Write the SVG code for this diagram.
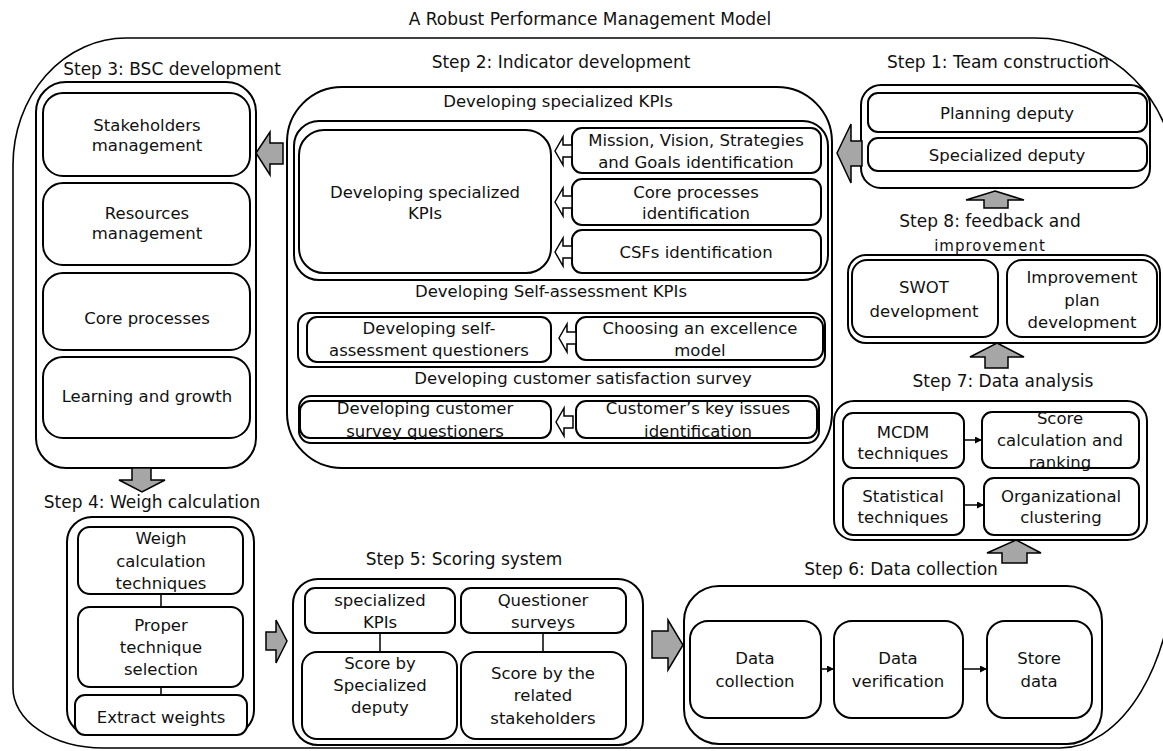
<svg xmlns="http://www.w3.org/2000/svg" width="1163" height="751" viewBox="0 0 1163 751">
<style>
.frame{fill:none;stroke:#000;stroke-width:1.6}
.grp{fill:#fff;stroke:#000;stroke-width:2}
.box{fill:#fff;stroke:#000;stroke-width:2}
.t{font-family:"DejaVu Sans",sans-serif;font-size:16.5px;text-anchor:middle;fill:#111}
.s{font-family:"DejaVu Sans",sans-serif;font-size:17px;text-anchor:middle;fill:#111}
.ga{fill:#a6a6a6;stroke:#000;stroke-width:1.5;stroke-linejoin:miter}
.wa{fill:#fff;stroke:#000;stroke-width:1.5}
.ln{stroke:#000;stroke-width:1.5;fill:none}
</style>
<defs>
<marker id="ah" viewBox="0 0 10 10" refX="10" refY="5" markerWidth="7" markerHeight="7" markerUnits="userSpaceOnUse" orient="auto">
<path d="M0,0 L10,5 L0,10 Z" fill="#000"/>
</marker>
<path id="sa" d="M0,0 L8,-14 L8,-6 L17,-6 L17,6 L8,6 L8,14 Z"/>
</defs>
<rect width="1163" height="751" fill="#fff"/>

<text class="s" x="590" y="25">A Robust Performance Management Model</text>
<path class="frame" d="M126,38 H1035 A140,140 0 0 1 1175,178 V554 A115,194 0 0 1 1060,748 H103 A90,60 0 0 1 13,688 V165 A113,127 0 0 1 126,38 Z"/>

<g id="step3">
<text class="s" x="172" y="75">Step 3: BSC development</text>
<rect class="grp" x="36" y="82" width="220" height="386" rx="30"/>
<rect class="box" x="43" y="93" width="207" height="83" rx="20"/>
<text class="t" x="147" y="131">Stakeholders</text>
<text class="t" x="147" y="151">management</text>
<rect class="box" x="43" y="183" width="207" height="82" rx="20"/>
<text class="t" x="147" y="219">Resources</text>
<text class="t" x="147" y="239">management</text>
<rect class="box" x="43" y="273" width="207" height="77" rx="20"/>
<text class="t" x="147" y="324">Core processes</text>
<rect class="box" x="43" y="357" width="207" height="81" rx="20"/>
<text class="t" x="147" y="402">Learning and growth</text>
</g>

<g id="step2">
<text class="s" x="561" y="68">Step 2: Indicator development</text>
<rect class="grp" x="287" y="87" width="545" height="381" rx="55"/>
<text class="t" x="558" y="107">Developing specialized KPIs</text>
<rect class="grp" x="294" y="121" width="534" height="159" rx="25"/>
<rect class="box" x="299" y="130" width="252" height="143" rx="25"/>
<text class="t" x="425" y="198">Developing specialized</text>
<text class="t" x="425" y="219">KPIs</text>
<rect class="box" x="572" y="128" width="249" height="45" rx="10"/>
<text class="t" x="696" y="146">Mission, Vision, Strategies</text>
<text class="t" x="696" y="168">and Goals identification</text>
<rect class="box" x="572" y="179" width="249" height="46" rx="10"/>
<text class="t" x="696" y="198">Core processes</text>
<text class="t" x="696" y="219">identification</text>
<rect class="box" x="572" y="230" width="249" height="43" rx="10"/>
<text class="t" x="696" y="258">CSFs identification</text>

<text class="t" x="551" y="297">Developing Self-assessment KPIs</text>
<rect class="grp" x="298" y="313" width="527" height="54" rx="12"/>
<rect class="box" x="307" y="317" width="244" height="45" rx="10"/>
<text class="t" x="429" y="334">Developing self-</text>
<text class="t" x="429" y="356">assessment questioners</text>
<rect class="box" x="576" y="317" width="247" height="43" rx="10"/>
<text class="t" x="700" y="334">Choosing an excellence</text>
<text class="t" x="700" y="356">model</text>

<text class="t" x="583" y="384">Developing customer satisfaction survey</text>
<rect class="grp" x="299" y="396" width="520" height="47" rx="12"/>
<rect class="box" x="300" y="401" width="251" height="37" rx="10"/>
<text class="t" x="425" y="414">Developing customer</text>
<text class="t" x="425" y="437">survey questioners</text>
<rect class="box" x="576" y="401" width="241" height="37" rx="10"/>
<text class="t" x="698" y="414">Customer’s key issues</text>
<text class="t" x="698" y="437">identification</text>
</g>

<g id="step1">
<text class="s" x="998" y="68">Step 1: Team construction</text>
<rect class="grp" x="861" y="85" width="289" height="103" rx="20"/>
<rect class="box" x="868" y="93" width="279" height="39" rx="10"/>
<text class="t" x="1007" y="119">Planning deputy</text>
<rect class="box" x="868" y="138" width="279" height="33" rx="10"/>
<text class="t" x="1007" y="161">Specialized deputy</text>
</g>

<g id="step8">
<text class="s" x="990" y="227">Step 8: feedback and</text>
<text class="s" x="990" y="251" style="font-size:15px;letter-spacing:1px">improvement</text>
<rect class="grp" x="848" y="255" width="312" height="88" rx="18"/>
<rect class="box" x="852" y="260" width="146" height="77" rx="15"/>
<text class="t" x="924" y="293">SWOT</text>
<text class="t" x="924" y="317">development</text>
<rect class="box" x="1007" y="260" width="150" height="77" rx="15"/>
<text class="t" x="1082" y="283">Improvement</text>
<text class="t" x="1082" y="306">plan</text>
<text class="t" x="1082" y="328">development</text>
</g>

<g id="step7">
<text class="s" x="1003" y="387">Step 7: Data analysis</text>
<rect class="grp" x="834" y="401" width="313" height="139" rx="20"/>
<rect class="box" x="843" y="413" width="121" height="55" rx="10"/>
<text class="t" x="903" y="438">MCDM</text>
<text class="t" x="903" y="459">techniques</text>
<rect class="box" x="982" y="412" width="157" height="56" rx="10"/>
<text class="t" x="1060" y="424">Score</text>
<text class="t" x="1060" y="446">calculation and</text>
<text class="t" x="1060" y="468">ranking</text>
<rect class="box" x="843" y="478" width="121" height="57" rx="10"/>
<text class="t" x="903" y="502">Statistical</text>
<text class="t" x="903" y="523">techniques</text>
<rect class="box" x="984" y="478" width="155" height="57" rx="10"/>
<text class="t" x="1061" y="502">Organizational</text>
<text class="t" x="1061" y="523">clustering</text>
</g>

<g id="step6">
<text class="s" x="901" y="575">Step 6: Data collection</text>
<rect class="grp" x="684" y="586" width="418" height="158" rx="35"/>
<rect class="box" x="690" y="621" width="131" height="97" rx="18"/>
<text class="t" x="755" y="664">Data</text>
<text class="t" x="755" y="687">collection</text>
<rect class="box" x="834" y="621" width="129" height="97" rx="18"/>
<text class="t" x="898" y="664">Data</text>
<text class="t" x="898" y="687">verification</text>
<rect class="box" x="987" y="621" width="105" height="97" rx="18"/>
<text class="t" x="1039" y="664">Store</text>
<text class="t" x="1039" y="687">data</text>
</g>

<g id="step5">
<text class="s" x="464" y="565">Step 5: Scoring system</text>
<rect class="grp" x="293" y="579" width="350" height="166" rx="25"/>
<rect class="box" x="305" y="588" width="150" height="45" rx="10"/>
<text class="t" x="380" y="606">specialized</text>
<text class="t" x="380" y="628">KPIs</text>
<rect class="box" x="461" y="588" width="165" height="45" rx="10"/>
<text class="t" x="543" y="606">Questioner</text>
<text class="t" x="543" y="628">surveys</text>
<rect class="box" x="302" y="652" width="155" height="87" rx="15"/>
<text class="t" x="380" y="669">Score by</text>
<text class="t" x="380" y="691">Specialized</text>
<text class="t" x="380" y="713">deputy</text>
<rect class="box" x="461" y="652" width="165" height="87" rx="15"/>
<text class="t" x="543" y="679">Score by the</text>
<text class="t" x="543" y="701">related</text>
<text class="t" x="543" y="724">stakeholders</text>
</g>

<g id="step4">
<text class="s" x="152" y="508">Step 4: Weigh calculation</text>
<rect class="grp" x="67" y="517" width="187" height="218" rx="25"/>
<rect class="box" x="78" y="527" width="165" height="67" rx="12"/>
<text class="t" x="161" y="544">Weigh</text>
<text class="t" x="161" y="567">calculation</text>
<text class="t" x="161" y="589">techniques</text>
<rect class="box" x="78" y="607" width="165" height="80" rx="12"/>
<text class="t" x="161" y="631">Proper</text>
<text class="t" x="161" y="653">technique</text>
<text class="t" x="161" y="675">selection</text>
<rect class="box" x="75" y="695" width="172" height="40" rx="10"/>
<text class="t" x="161" y="723">Extract weights</text>
</g>

<g id="connectors">
<path class="ga" d="M256,153 L270,132 L270,143 L283,143 L283,164 L270,164 L270,175 Z"/>
<path class="ga" d="M837,153 L851,124 L851,141 L862,141 L862,166 L851,166 L851,183 Z"/>
<path class="ga" d="M995,191 L1024,200 L1008,200 L1008,208 L984,208 L984,200 L966,200 Z"/>
<path class="ga" d="M997,343 L1024,357 L1008,357 L1008,368 L985,368 L985,357 L970,357 Z"/>
<path class="ga" d="M1016,540 L1041,553 L1027,553 L1027,563 L1002,563 L1002,553 L987,553 Z"/>
<path class="ga" d="M652,631 L668,631 L668,620 L683,645 L668,670 L668,658 L652,658 Z"/>
<path class="ga" d="M266,632 L276,632 L276,620 L287,641 L276,663 L276,650 L266,650 Z"/>
<path class="ga" d="M132,468 H151 V480 H165 L142,492 L119,480 H132 Z"/>
<use href="#sa" class="wa" x="555" y="151"/>
<use href="#sa" class="wa" x="555" y="202"/>
<use href="#sa" class="wa" x="555" y="252"/>
<use href="#sa" class="wa" x="559" y="338"/>
<use href="#sa" class="wa" x="556" y="422"/>
<line class="ln" x1="964" y1="440" x2="982" y2="440" marker-end="url(#ah)"/>
<line class="ln" x1="964" y1="505" x2="984" y2="505" marker-end="url(#ah)"/>
<line class="ln" x1="821" y1="669" x2="834" y2="669" marker-end="url(#ah)"/>
<line class="ln" x1="963" y1="669" x2="987" y2="669" marker-end="url(#ah)"/>
<line class="ln" x1="380" y1="633" x2="380" y2="652"/>
<line class="ln" x1="543" y1="633" x2="543" y2="652"/>
<line class="ln" x1="161" y1="594" x2="161" y2="607"/>
<line class="ln" x1="161" y1="687" x2="161" y2="695"/>
</g>
</svg>
